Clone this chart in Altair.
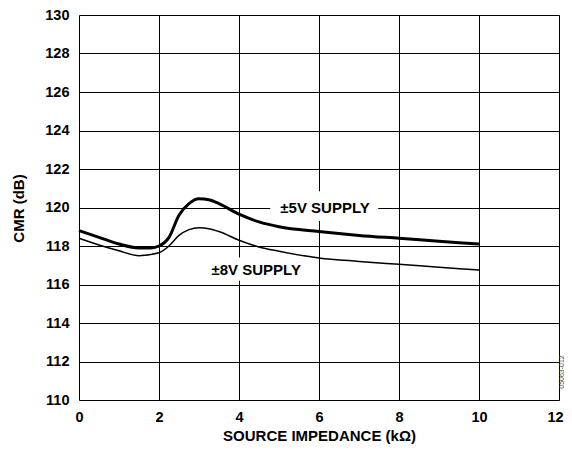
import altair as alt
import pandas as pd

# ±5V supply (thick)
x5 = [0, 0.5, 1, 1.5, 1.8, 2, 2.25, 2.5, 2.75, 3, 3.25, 3.5, 4, 4.5, 5, 6, 7, 8, 9, 10]
y5 = [118.8, 118.45, 118.1, 117.9, 117.9, 118.0, 118.45, 119.6, 120.2, 120.45, 120.4, 120.2,
      119.65, 119.25, 119.0, 118.75, 118.55, 118.4, 118.25, 118.1]
# ±8V supply (thin)
x8 = [0, 0.5, 1, 1.5, 2, 2.25, 2.5, 2.75, 3, 3.25, 3.5, 4, 4.5, 5, 6, 7, 8, 9, 10]
y8 = [118.4, 118.05, 117.75, 117.5, 117.65, 118.0, 118.55, 118.85, 118.95, 118.9, 118.75,
      118.3, 117.95, 117.73, 117.38, 117.2, 117.05, 116.9, 116.75]

x_ticks = [0, 2, 4, 6, 8, 10, 12]
y_ticks = list(range(110, 131, 2))

labels = ["±5V SUPPLY", "±8V SUPPLY"]
label_x = [6.15, 4.43]
label_y = [120.0, 116.75]
box_x1 = [4.78, 3.2]
box_x2 = [7.48, 5.65]
box_y1 = [119.3, 116.2]
box_y2 = [120.85, 117.4]

FONT = "Liberation Sans"

d5 = pd.DataFrame({"x": x5, "y": y5})
d8 = pd.DataFrame({"x": x8, "y": y8})
dl = pd.DataFrame({"label": labels, "x": label_x, "y": label_y,
                   "x1": box_x1, "x2": box_x2, "y1": box_y1, "y2": box_y2})

xscale = alt.Scale(domain=[0, 12], nice=False, zero=False)
yscale = alt.Scale(domain=[110, 130], nice=False, zero=False)

xaxis = alt.Axis(values=x_ticks, title="SOURCE IMPEDANCE (kΩ)", grid=True, gridColor="#000000",
                 gridOpacity=1, gridWidth=1, tickSize=0, domain=False, labelFont=FONT,
                 labelFontSize=14.5, labelFontWeight="bold", labelColor="#000000", labelPadding=10,
                 labelOffset=alt.ExprRef("datum.value == 12 ? -4 : 0"),
                 titleFont=FONT, titleFontSize=15, titleFontWeight="bold", titleColor="#000000",
                 titleX=240, titleY=35, titleBaseline="middle", titleAlign="center",
                 labelFlush=False)
yaxis = alt.Axis(values=y_ticks, title="CMR (dB)", grid=True, gridColor="#000000",
                 gridOpacity=1, gridWidth=1, tickSize=0, domain=False, labelFont=FONT,
                 labelFontSize=14.5, labelFontWeight="bold", labelColor="#000000", labelPadding=10,
                 titleFont=FONT, titleFontSize=15, titleFontWeight="bold", titleColor="#000000",
                 titleX=-61, titleY=193, titleBaseline="middle", titleAlign="center",
                 titleAngle=-90, labelFlush=False)

base_x = alt.X("x:Q", scale=xscale, axis=xaxis)
base_y = alt.Y("y:Q", scale=yscale, axis=yaxis)

boxes = alt.Chart(dl).mark_rect(fill="white", strokeWidth=0).encode(
    x=alt.X("x1:Q", scale=xscale, axis=xaxis), x2="x2:Q",
    y=alt.Y("y1:Q", scale=yscale, axis=yaxis), y2="y2:Q")

line5 = alt.Chart(d5).mark_line(color="black", strokeWidth=3, interpolate="monotone").encode(
    x=base_x, y=base_y)
line8 = alt.Chart(d8).mark_line(color="black", strokeWidth=1.5, interpolate="monotone").encode(
    x=base_x, y=base_y)

texts = alt.Chart(dl).mark_text(font=FONT, fontSize=15, fontWeight="bold", color="black",
                                align="center", baseline="middle").encode(
    x=base_x, y=base_y, text="label:N")

mark_id = alt.Chart(pd.DataFrame({"t": ["05063-012"]})).mark_text(
    font=FONT, fontSize=7, color="#444444", angle=270, align="center", baseline="middle"
).encode(x=alt.value(483), y=alt.value(357), text="t:N")

chart = alt.layer(boxes, line5, line8, texts, mark_id).properties(
    width=480, height=385,
    autosize=alt.AutoSizeParams(type="none"),
    padding={"left": 71, "top": 7, "right": 5, "bottom": 44},
).configure_view(stroke="black", strokeWidth=2).configure(background="white")

chart.save("out.html", embed_options={"renderer": "svg", "actions": False})
